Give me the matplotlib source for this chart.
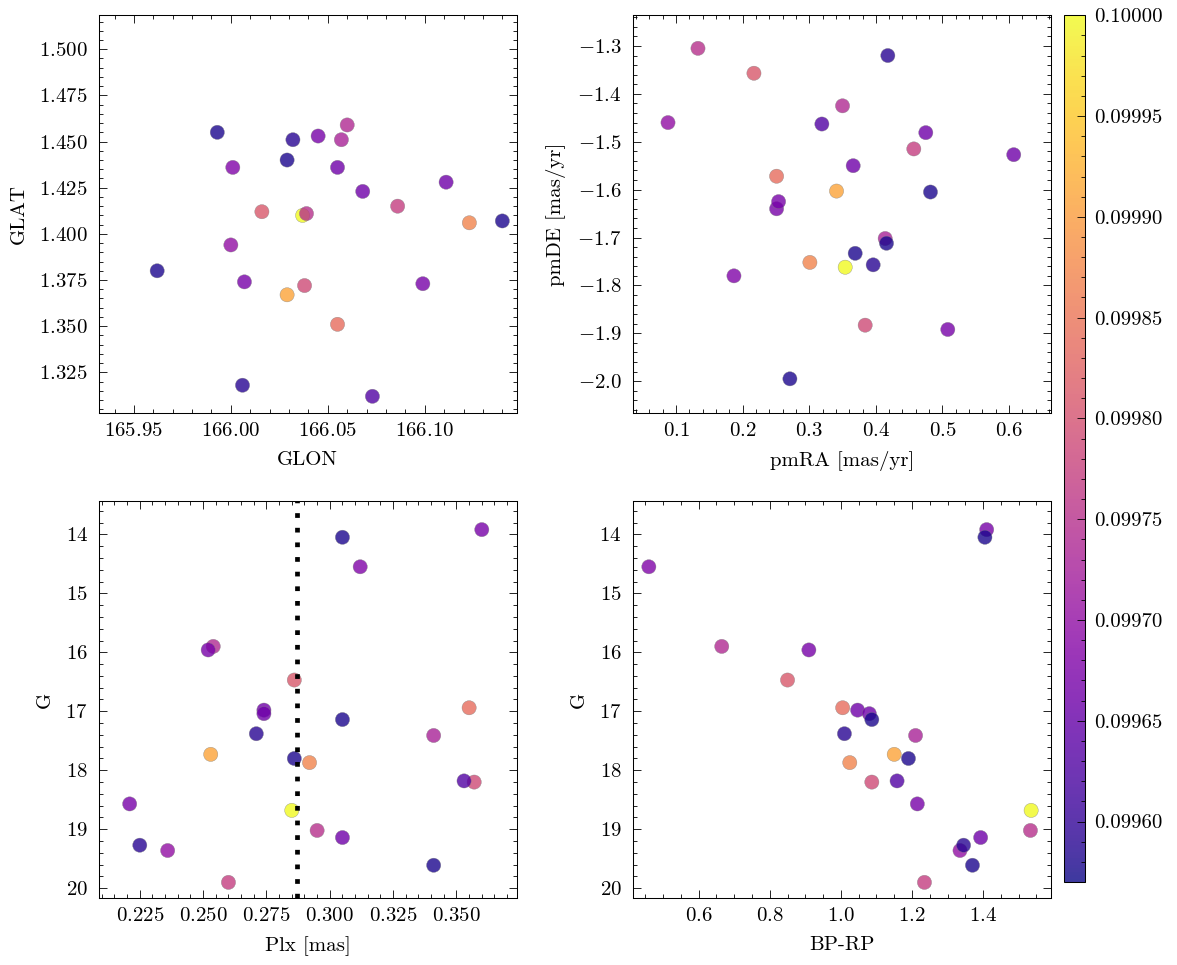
import numpy as np
import matplotlib
matplotlib.use('Agg')
import matplotlib.pyplot as plt
from matplotlib.ticker import AutoMinorLocator, MultipleLocator, FormatStrFormatter

# membership probability of each star (colour)
prob = [0.10000, 0.09991, 0.09987, 0.09984, 0.09981, 0.09979, 0.09977,
        0.09975, 0.09974, 0.09973, 0.09970,
        0.09968, 0.09967, 0.09967, 0.09966, 0.09966, 0.09967, 0.09966,
        0.09963,
        0.09958, 0.09958, 0.09959, 0.09958, 0.09959, 0.09958]

# astrometry
glon = [166.037, 166.029, 166.123, 166.055, 166.016, 166.038, 166.086,
        166.039, 166.060, 166.057, 166.000,
        166.001, 166.007, 166.045, 166.055, 166.068, 166.099, 166.111,
        166.073,
        165.962, 165.993, 166.006, 166.029, 166.032, 166.140]
glat = [1.410, 1.367, 1.406, 1.351, 1.412, 1.372, 1.415,
        1.411, 1.459, 1.451, 1.394,
        1.436, 1.374, 1.453, 1.436, 1.423, 1.373, 1.428,
        1.312,
        1.380, 1.455, 1.318, 1.440, 1.451, 1.407]
pmra = [0.354, 0.341, 0.301, 0.251, 0.217, 0.384, 0.457,
        0.133, 0.350, 0.414, 0.088,
        0.187, 0.251, 0.254, 0.366, 0.475, 0.508, 0.607,
        0.319,
        0.271, 0.369, 0.396, 0.416, 0.418, 0.482]
pmde = [-1.762, -1.603, -1.752, -1.572, -1.357, -1.883, -1.515,
        -1.305, -1.425, -1.702, -1.460,
        -1.780, -1.640, -1.625, -1.550, -1.481, -1.892, -1.527,
        -1.463,
        -1.995, -1.733, -1.757, -1.712, -1.320, -1.605]

# photometry
plx = [0.285, 0.253, 0.292, 0.355, 0.286, 0.357, 0.260,
       0.295, 0.254, 0.341, 0.236,
       0.312, 0.360, 0.252, 0.274, 0.274, 0.221, 0.305,
       0.353,
       0.305, 0.305, 0.271, 0.286, 0.225, 0.341]
gmag = [18.68, 17.73, 17.87, 16.94, 16.47, 18.20, 19.90,
        19.02, 15.90, 17.41, 19.36,
        14.55, 13.92, 15.96, 16.98, 17.04, 18.57, 19.14,
        18.18,
        14.05, 17.14, 17.38, 17.80, 19.27, 19.61]
bprp = [1.535, 1.150, 1.025, 1.005, 0.850, 1.087, 1.235,
        1.533, 0.665, 1.210, 1.335,
        0.460, 1.410, 0.910, 1.047, 1.080, 1.215, 1.393,
        1.158,
        1.405, 1.087, 1.010, 1.190, 1.345, 1.370]

plx_mean = 0.287

plt.rcParams['font.family'] = 'cmr10'
plt.rcParams['mathtext.fontset'] = 'cm'
plt.rcParams['axes.formatter.use_mathtext'] = True
plt.rcParams['axes.formatter.useoffset'] = False
plt.rcParams['font.size'] = 15
plt.rcParams['axes.linewidth'] = 0.75
plt.rcParams['axes.labelpad'] = 8
for a in ['xtick', 'ytick']:
    plt.rcParams[a + '.direction'] = 'in'
    plt.rcParams[a + '.major.size'] = 5.8
    plt.rcParams[a + '.minor.size'] = 2.9
    plt.rcParams[a + '.major.width'] = 0.6
    plt.rcParams[a + '.minor.width'] = 0.6
    plt.rcParams[a + '.minor.visible'] = True
plt.rcParams['xtick.top'] = True
plt.rcParams['ytick.right'] = True
plt.rcParams['xtick.major.pad'] = 6
plt.rcParams['ytick.major.pad'] = 8

W, H = 1177, 965
fig = plt.figure(figsize=(W / 100, H / 100), dpi=100)

def px_axes(l, t, r, b):
    return fig.add_axes([l / W, 1 - b / H, (r - l) / W, (b - t) / H])

ax1 = px_axes(99, 15.3, 516.5, 413.3)
ax2 = px_axes(632.7, 15.3, 1050.7, 413.3)
ax3 = px_axes(99, 500.7, 516.5, 898.3)
ax4 = px_axes(632.7, 500.7, 1050.7, 898.3)
cax = px_axes(1064, 15.3, 1085.3, 882)

vmin, vmax = 0.09957, 0.1
kw = dict(c=prob, cmap='plasma', vmin=vmin, vmax=vmax, s=105, alpha=0.8,
          edgecolors='gray', linewidths=0.3)

sc = ax1.scatter(glon, glat, **kw)
ax1.set_xlim(165.932, 166.1473)
ax1.set_ylim(1.3028, 1.5184)
ax1.xaxis.set_major_locator(MultipleLocator(0.05))
ax1.yaxis.set_major_locator(MultipleLocator(0.025))
ax1.set_xlabel('GLON')
ax1.set_ylabel('GLAT')

ax2.scatter(pmra, pmde, **kw)
ax2.set_xlim(0.035, 0.6625)
ax2.set_ylim(-2.067, -1.236)
ax2.xaxis.set_major_locator(MultipleLocator(0.1))
ax2.yaxis.set_major_locator(MultipleLocator(0.1))
ax2.set_xlabel('pmRA [mas/yr]')
ax2.set_ylabel('pmDE [mas/yr]')

ax3.scatter(plx, gmag, **kw)
ax3.axvline(plx_mean, color='k', ls=(0, (1, 2.1)), lw=3.4)
ax3.set_xlim(0.2089, 0.3737)
ax3.set_ylim(20.17, 13.43)
ax3.xaxis.set_major_locator(MultipleLocator(0.025))
ax3.set_xlabel('Plx [mas]')
ax3.set_ylabel('G')

ax4.scatter(bprp, gmag, **kw)
ax4.set_xlim(0.4146, 1.590)
ax4.set_ylim(20.17, 13.43)
ax4.set_xlabel('BP-RP')
ax4.set_ylabel('G')

for ax in [ax1, ax2, ax3, ax4]:
    ax.xaxis.set_minor_locator(AutoMinorLocator())
    ax.yaxis.set_minor_locator(AutoMinorLocator())

cb = fig.colorbar(sc, cax=cax)
cb.set_ticks(np.arange(0.0996, 0.100001, 0.00005))
cb.ax.yaxis.set_major_formatter(FormatStrFormatter('%.5f'))
cb.ax.yaxis.set_minor_locator(MultipleLocator(0.00001))
cb.ax.tick_params(pad=6)
cb.outline.set_linewidth(0.75)

fig.savefig('out.png', dpi=100)
